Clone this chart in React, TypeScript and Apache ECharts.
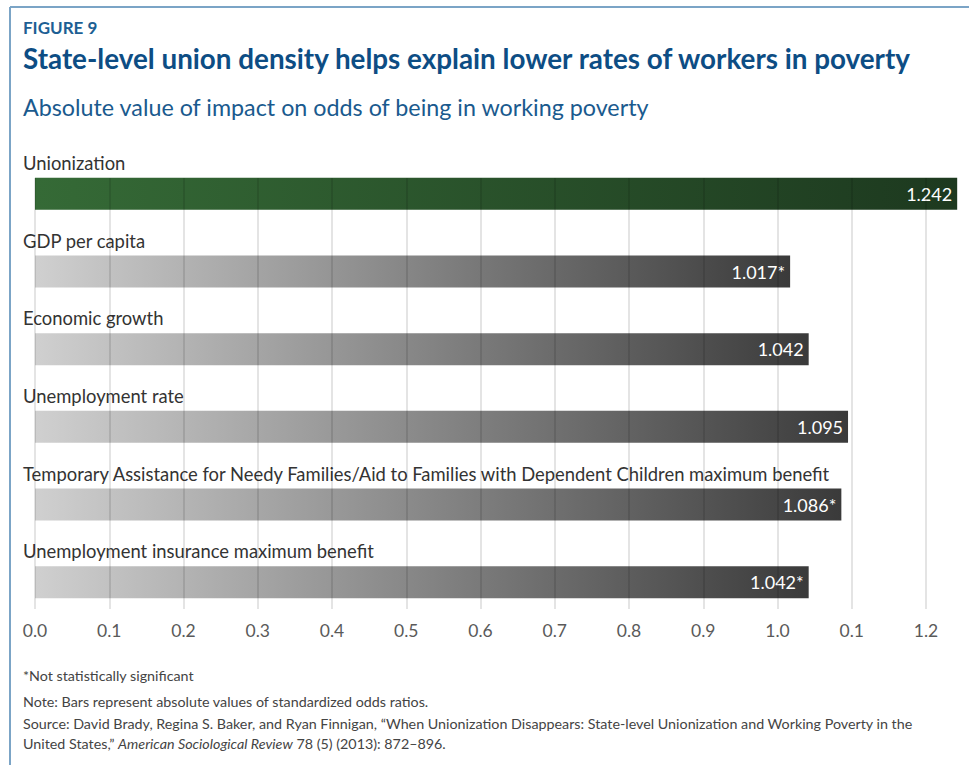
import React, { useEffect, useRef } from "react";
import * as echarts from "echarts";

const categories = [
  "Unionization",
  "GDP per capita",
  "Economic growth",
  "Unemployment rate",
  "Temporary Assistance for Needy Families/Aid to Families with Dependent Children maximum benefit",
  "Unemployment insurance maximum benefit",
];
const values = [1.242, 1.017, 1.042, 1.095, 1.086, 1.042];
const valueLabels = ["1.242", "1.017*", "1.042", "1.095", "1.086*", "1.042*"];
const highlighted = [true, false, false, false, false, false];
const tickLabels = ["0.0", "0.1", "0.2", "0.3", "0.4", "0.5", "0.6", "0.7", "0.8", "0.9", "1.0", "0.1", "1.2"];

const FONT = "Lato, 'Noto Sans', sans-serif";

export default function App() {
  const ref = useRef<HTMLDivElement>(null);
  useEffect(() => {
    if (!ref.current) return;
    const chart = echarts.init(ref.current, undefined, { renderer: "svg" });
    const green = new echarts.graphic.LinearGradient(0, 0, 1, 0, [
      { offset: 0, color: "#356a36" },
      { offset: 1, color: "#1d391f" },
    ]);
    const gray = new echarts.graphic.LinearGradient(0, 0, 1, 0, [
      { offset: 0, color: "#d0d0d0" },
      { offset: 1, color: "#3a3a3a" },
    ]);
    chart.setOption({
      animation: false,
      backgroundColor: "#ffffff",
      textStyle: { fontFamily: FONT },
      grid: [
        { left: 35, width: 891, top: 155, height: 466 },
        { left: 35, width: 891, top: 178, height: 431 },
      ],
      xAxis: [
        { gridIndex: 0, type: "value", min: 0, max: 1.2, interval: 0.1, show: false },
        {
          gridIndex: 1,
          type: "value",
          min: 0,
          max: 1.2,
          interval: 0.1,
          z: 10,
          axisLine: { show: false },
          axisTick: { show: false },
          splitLine: { show: true, lineStyle: { color: "rgba(0,0,0,0.14)", width: 1.5 } },
          axisLabel: {
            margin: 12,
            fontSize: 17.5,
            color: "#5a5a5a",
            fontFamily: FONT,
            formatter: (v: number) => tickLabels[Math.round(v * 10)] ?? "",
          },
        },
      ],
      yAxis: [
        {
          gridIndex: 0,
          type: "category",
          data: categories,
          inverse: true,
          axisLine: { show: false },
          axisTick: { show: false },
          splitLine: { show: false },
          axisLabel: {
            inside: true,
            align: "left",
            margin: -12,
            verticalAlign: "bottom",
            padding: [0, 0, 22, 0],
            fontSize: 18.4,
            color: "#333333",
            fontFamily: FONT,
          },
        },
        { gridIndex: 1, type: "value", min: 0, max: 1, show: false },
      ],
      series: [
        {
          type: "bar",
          xAxisIndex: 0,
          yAxisIndex: 0,
          barWidth: 32,
          clip: false,
          data: values.map((v, i) => ({
            value: v,
            itemStyle: { color: highlighted[i] ? green : gray },
          })),
          label: {
            show: true,
            position: "insideRight",
            distance: 5,
            color: "#ffffff",
            fontSize: 18,
            fontFamily: FONT,
            formatter: (p: any) => valueLabels[p.dataIndex],
          },
        },
      ],
      graphic: [
        { type: "line", shape: { x1: 10, y1: 7, x2: 969, y2: 7 }, style: { stroke: "#7ba4c6", lineWidth: 2 } },
        { type: "line", shape: { x1: 10, y1: 7, x2: 10, y2: 765 }, style: { stroke: "#7ba4c6", lineWidth: 2 } },
        {
          type: "text",
          left: 23,
          top: 19,
          style: { text: "FIGURE 9", font: `bold 17px ${FONT}`, fill: "#1d5f94" },
        },
        {
          type: "text",
          left: 23,
          top: 44,
          style: {
            text: "State-level union density helps explain lower rates of workers in poverty",
            font: `bold 27.8px ${FONT}`,
            fill: "#0d4d84",
          },
        },
        {
          type: "text",
          left: 23,
          top: 95,
          style: {
            text: "Absolute value of impact on odds of being in working poverty",
            font: `23.3px ${FONT}`,
            fill: "#1a5a8e",
          },
        },
        {
          type: "text",
          left: 23,
          top: 668,
          style: { text: "*Not statistically significant", font: `14.3px ${FONT}`, fill: "#444444" },
        },
        {
          type: "text",
          left: 23,
          top: 694,
          style: {
            text: "Note: Bars represent absolute values of standardized odds ratios.",
            font: `14.3px ${FONT}`,
            fill: "#444444",
          },
        },
        {
          type: "text",
          left: 23,
          top: 716,
          style: {
            text: "Source: David Brady, Regina S. Baker, and Ryan Finnigan, \u201cWhen Unionization Disappears: State-level Unionization and Working Poverty in the",
            font: `14.3px ${FONT}`,
            fill: "#444444",
          },
        },
        {
          type: "text",
          left: 23,
          top: 736,
          style: {
            text: "{n|United States,\u201d }{i|American Sociological Review}{n| 78 (5) (2013): 872\u2013896.}",
            rich: {
              n: { font: `14.3px ${FONT}`, fill: "#444444" },
              i: { font: `italic 14.3px ${FONT}`, fill: "#444444" },
            },
          },
        },
      ],
    });
    return () => chart.dispose();
  }, []);
  return (
    <div
      ref={ref}
      style={{ position: "absolute", left: 0, top: 0, width: 969, height: 765 }}
    />
  );
}
